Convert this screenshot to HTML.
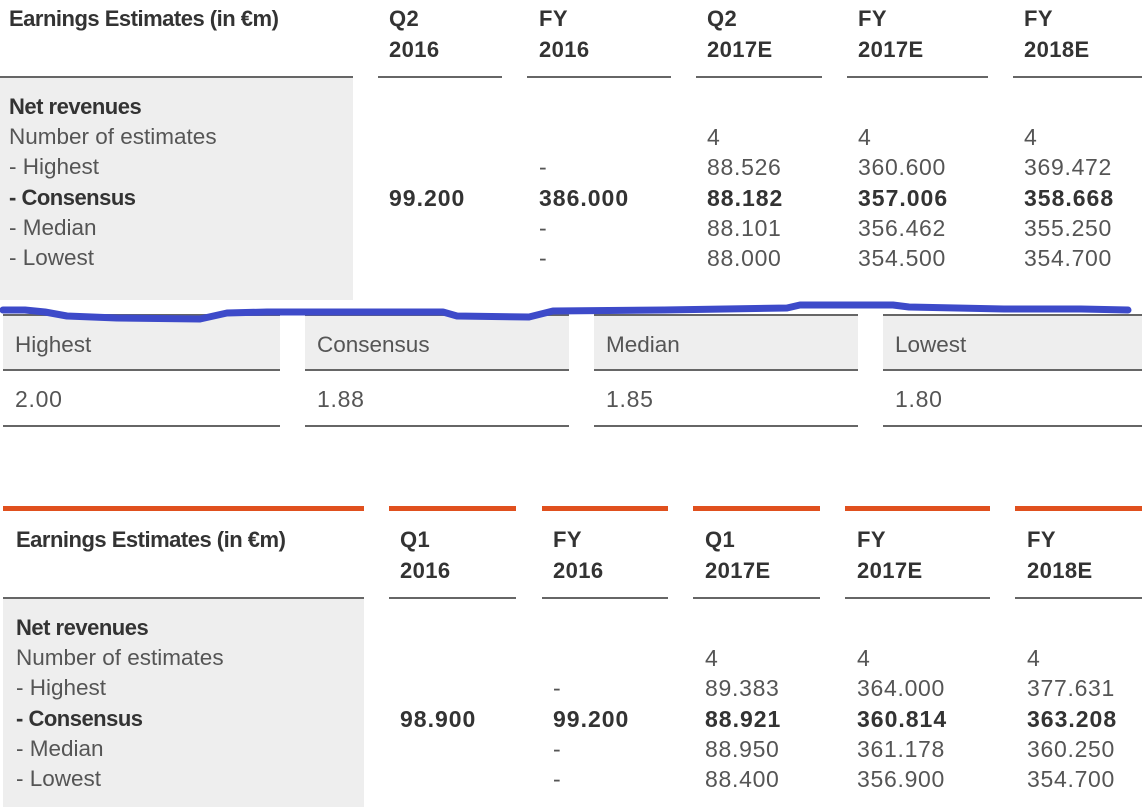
<!DOCTYPE html>
<html>
<head>
<meta charset="utf-8">
<style>
  html,body{margin:0;padding:0;background:#fff;}
  body{width:1142px;height:807px;position:relative;overflow:hidden;font-family:"Liberation Sans",Arial,sans-serif;}
  .t{position:absolute;white-space:nowrap;line-height:30px;height:30px;}
  .h{font-weight:bold;color:#333;font-size:22px;letter-spacing:0.4px;}
  .ti{font-weight:bold;color:#333;font-size:22px;letter-spacing:-0.5px;}
  .r{color:#555;font-size:22.5px;}
  .rb{color:#333;font-size:22px;font-weight:bold;letter-spacing:-0.5px;}
  .n{color:#555;font-size:23px;letter-spacing:0.7px;}
  .nb{color:#333;font-size:23px;font-weight:bold;letter-spacing:1px;}
  .box{position:absolute;background:#eeeeee;}
  .ln{position:absolute;height:2px;background:#666;}
  .or{position:absolute;height:5px;background:#e0501e;}
</style>
</head>
<body>

<!-- ===== Upper table ===== -->
<div class="box" style="left:0;top:78px;width:353px;height:222px;"></div>
<div class="ln" style="left:0;top:76px;width:353px;"></div>
<div class="ln" style="left:378px;top:76px;width:124px;"></div>
<div class="ln" style="left:527px;top:76px;width:144px;"></div>
<div class="ln" style="left:696px;top:76px;width:126px;"></div>
<div class="ln" style="left:847px;top:76px;width:141px;"></div>
<div class="ln" style="left:1013px;top:76px;width:129px;"></div>

<div class="t ti" style="left:9px;top:4px;">Earnings Estimates (in €m)</div>
<div class="t h" style="left:389px;top:4px;">Q2</div>
<div class="t h" style="left:389px;top:35px;">2016</div>
<div class="t h" style="left:539px;top:4px;">FY</div>
<div class="t h" style="left:539px;top:35px;">2016</div>
<div class="t h" style="left:707px;top:4px;">Q2</div>
<div class="t h" style="left:707px;top:35px;">2017E</div>
<div class="t h" style="left:858px;top:4px;">FY</div>
<div class="t h" style="left:858px;top:35px;">2017E</div>
<div class="t h" style="left:1024px;top:4px;">FY</div>
<div class="t h" style="left:1024px;top:35px;">2018E</div>

<div class="t rb" style="left:9px;top:92px;">Net revenues</div>
<div class="t r" style="left:9px;top:122px;">Number of estimates</div>
<div class="t r" style="left:9px;top:152px;">- Highest</div>
<div class="t rb" style="left:9px;top:183px;">- Consensus</div>
<div class="t r" style="left:9px;top:213px;">- Median</div>
<div class="t r" style="left:9px;top:243px;">- Lowest</div>

<div class="t nb" style="left:389px;top:183px;">99.200</div>

<div class="t n" style="left:539px;top:152px;">-</div>
<div class="t nb" style="left:539px;top:183px;">386.000</div>
<div class="t n" style="left:539px;top:213px;">-</div>
<div class="t n" style="left:539px;top:243px;">-</div>

<div class="t n" style="left:707px;top:122px;">4</div>
<div class="t n" style="left:707px;top:152px;">88.526</div>
<div class="t nb" style="left:707px;top:183px;">88.182</div>
<div class="t n" style="left:707px;top:213px;">88.101</div>
<div class="t n" style="left:707px;top:243px;">88.000</div>

<div class="t n" style="left:858px;top:122px;">4</div>
<div class="t n" style="left:858px;top:152px;">360.600</div>
<div class="t nb" style="left:858px;top:183px;">357.006</div>
<div class="t n" style="left:858px;top:213px;">356.462</div>
<div class="t n" style="left:858px;top:243px;">354.500</div>

<div class="t n" style="left:1024px;top:122px;">4</div>
<div class="t n" style="left:1024px;top:152px;">369.472</div>
<div class="t nb" style="left:1024px;top:183px;">358.668</div>
<div class="t n" style="left:1024px;top:213px;">355.250</div>
<div class="t n" style="left:1024px;top:243px;">354.700</div>

<!-- ===== Middle section ===== -->
<div class="box" style="left:3px;top:315px;width:277px;height:55px;"></div>
<div class="box" style="left:305px;top:315px;width:264px;height:55px;"></div>
<div class="box" style="left:594px;top:315px;width:264px;height:55px;"></div>
<div class="box" style="left:883px;top:315px;width:259px;height:55px;"></div>

<div class="ln" style="left:3px;top:314px;width:277px;"></div>
<div class="ln" style="left:305px;top:314px;width:264px;"></div>
<div class="ln" style="left:594px;top:314px;width:264px;"></div>
<div class="ln" style="left:883px;top:314px;width:259px;"></div>

<div class="ln" style="left:3px;top:369px;width:277px;"></div>
<div class="ln" style="left:305px;top:369px;width:264px;"></div>
<div class="ln" style="left:594px;top:369px;width:264px;"></div>
<div class="ln" style="left:883px;top:369px;width:259px;"></div>

<div class="ln" style="left:3px;top:425px;width:277px;"></div>
<div class="ln" style="left:305px;top:425px;width:264px;"></div>
<div class="ln" style="left:594px;top:425px;width:264px;"></div>
<div class="ln" style="left:883px;top:425px;width:259px;"></div>

<div class="t r" style="left:15px;top:330px;">Highest</div>
<div class="t r" style="left:317px;top:330px;">Consensus</div>
<div class="t r" style="left:606px;top:330px;">Median</div>
<div class="t r" style="left:895px;top:330px;">Lowest</div>

<div class="t n" style="left:15px;top:384px;">2.00</div>
<div class="t n" style="left:317px;top:384px;">1.88</div>
<div class="t n" style="left:606px;top:384px;">1.85</div>
<div class="t n" style="left:895px;top:384px;">1.80</div>

<!-- blue hand-drawn line -->
<svg style="position:absolute;left:0;top:0;" width="1142" height="807" viewBox="0 0 1142 807">
  <polyline fill="none" stroke="#3d4ac9" stroke-width="7" stroke-linecap="round" stroke-linejoin="round"
    points="3,310 25,310 45,312 67,316 117,318 200,319 227,313 267,312 443,312 457,316 529,317 553,311 664,310 725,309 787,308 800,305 893,305 909,307 1004,309 1081,309 1128,310"/>
</svg>

<!-- ===== Lower table ===== -->
<div class="or" style="left:3px;top:506px;width:361px;"></div>
<div class="or" style="left:389px;top:506px;width:127px;"></div>
<div class="or" style="left:542px;top:506px;width:126px;"></div>
<div class="or" style="left:693px;top:506px;width:127px;"></div>
<div class="or" style="left:845px;top:506px;width:145px;"></div>
<div class="or" style="left:1015px;top:506px;width:127px;"></div>

<div class="box" style="left:3px;top:599px;width:361px;height:208px;"></div>
<div class="ln" style="left:3px;top:597px;width:361px;"></div>
<div class="ln" style="left:389px;top:597px;width:127px;"></div>
<div class="ln" style="left:542px;top:597px;width:126px;"></div>
<div class="ln" style="left:693px;top:597px;width:127px;"></div>
<div class="ln" style="left:845px;top:597px;width:145px;"></div>
<div class="ln" style="left:1015px;top:597px;width:127px;"></div>

<div class="t ti" style="left:16px;top:525px;">Earnings Estimates (in €m)</div>
<div class="t h" style="left:400px;top:525px;">Q1</div>
<div class="t h" style="left:400px;top:556px;">2016</div>
<div class="t h" style="left:553px;top:525px;">FY</div>
<div class="t h" style="left:553px;top:556px;">2016</div>
<div class="t h" style="left:705px;top:525px;">Q1</div>
<div class="t h" style="left:705px;top:556px;">2017E</div>
<div class="t h" style="left:857px;top:525px;">FY</div>
<div class="t h" style="left:857px;top:556px;">2017E</div>
<div class="t h" style="left:1027px;top:525px;">FY</div>
<div class="t h" style="left:1027px;top:556px;">2018E</div>

<div class="t rb" style="left:16px;top:613px;">Net revenues</div>
<div class="t r" style="left:16px;top:643px;">Number of estimates</div>
<div class="t r" style="left:16px;top:673px;">- Highest</div>
<div class="t rb" style="left:16px;top:704px;">- Consensus</div>
<div class="t r" style="left:16px;top:734px;">- Median</div>
<div class="t r" style="left:16px;top:764px;">- Lowest</div>

<div class="t nb" style="left:400px;top:704px;">98.900</div>

<div class="t n" style="left:553px;top:673px;">-</div>
<div class="t nb" style="left:553px;top:704px;">99.200</div>
<div class="t n" style="left:553px;top:734px;">-</div>
<div class="t n" style="left:553px;top:764px;">-</div>

<div class="t n" style="left:705px;top:643px;">4</div>
<div class="t n" style="left:705px;top:673px;">89.383</div>
<div class="t nb" style="left:705px;top:704px;">88.921</div>
<div class="t n" style="left:705px;top:734px;">88.950</div>
<div class="t n" style="left:705px;top:764px;">88.400</div>

<div class="t n" style="left:857px;top:643px;">4</div>
<div class="t n" style="left:857px;top:673px;">364.000</div>
<div class="t nb" style="left:857px;top:704px;">360.814</div>
<div class="t n" style="left:857px;top:734px;">361.178</div>
<div class="t n" style="left:857px;top:764px;">356.900</div>

<div class="t n" style="left:1027px;top:643px;">4</div>
<div class="t n" style="left:1027px;top:673px;">377.631</div>
<div class="t nb" style="left:1027px;top:704px;">363.208</div>
<div class="t n" style="left:1027px;top:734px;">360.250</div>
<div class="t n" style="left:1027px;top:764px;">354.700</div>

</body>
</html>
